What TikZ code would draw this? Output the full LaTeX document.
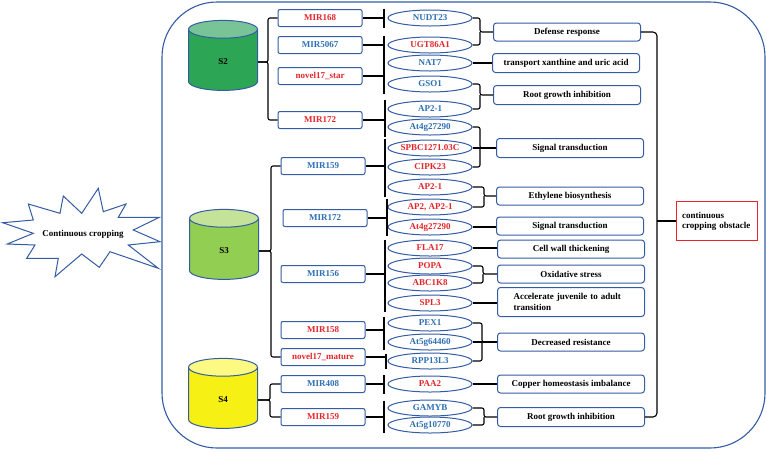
\documentclass[tikz,border=0pt]{standalone}
\usepackage{fontspec}
\setmainfont{Liberation Serif}
\usetikzlibrary{shapes.geometric}
\definecolor{boxblue}{RGB}{52,92,165}
\definecolor{txtblue}{RGB}{46,112,180}
\definecolor{txtred}{RGB}{228,38,44}
\definecolor{darkgrn}{RGB}{44,166,84}
\definecolor{darkgrntop}{RGB}{120,196,150}
\definecolor{litgrn}{RGB}{146,206,82}
\definecolor{litgrntop}{RGB}{196,226,152}
\definecolor{yel}{RGB}{246,240,20}
\definecolor{yeltop}{RGB}{252,250,130}
\begin{document}
\begin{tikzpicture}[x=1pt,y=-1pt,
    font=\fontsize{9}{10}\selectfont\bfseries,
    mirbox/.style={draw=boxblue,line width=1pt,rounded corners=2pt,fill=white,
      minimum width=84pt,minimum height=17pt,inner sep=0pt},
    genell/.style={draw=boxblue,line width=1pt,ellipse,fill=white,
      minimum width=84pt,minimum height=16pt,inner sep=0pt},
    funbox/.style={draw=boxblue,line width=1pt,rounded corners=3pt,fill=white,
      minimum width=147pt,minimum height=18pt,inner sep=0pt},
    drum/.style={draw=boxblue,line width=1pt,cylinder,shape border rotate=90,aspect=1.1,
      minimum width=69pt,minimum height=70pt,cylinder uses custom fill},
    link/.style={line width=1.1pt,rounded corners=2pt},
    tbar/.style={line width=1.4pt}]
  \useasboundingbox (0,0) rectangle (767,451);
  % outer frame
  \draw[boxblue,line width=1.1pt,rounded corners=55pt] (162,2) rectangle (765,448);
  % explosion
  \draw[boxblue,line width=1pt,fill=white] (2.7,222.7) -- (33.3,220) -- (28.3,204) -- (60,213.3)
    -- (63.3,196) -- (81.7,213.3) -- (98.3,188.3) -- (103.3,211.7) -- (126,204) -- (118.3,217.3)
    -- (159.3,217.3) -- (133.3,230) -- (160,241.7) -- (128.3,245) -- (158.3,268.3) -- (110,251.7)
    -- (99.3,267.3) -- (81.7,254) -- (55,276.7) -- (58.3,258.3) -- (26.7,258.3) -- (35,245)
    -- (7.3,244) -- (33.3,233.3) -- cycle;
  \node (cc) at (83,234) {Continuous cropping};

  % stages
  \node[drum,cylinder body fill=darkgrn,cylinder end fill=darkgrntop] (s2) at (223,62) {S2};
  \node[drum,cylinder body fill=litgrn,cylinder end fill=litgrntop] (s3) at (224,251) {S3};
  \node[drum,cylinder body fill=yel,cylinder end fill=yeltop] (s4) at (223,400) {S4};

  % miRNAs
  \node[mirbox,text=txtred] (m168) at (320,18) {MIR168};
  \node[mirbox,text=txtblue] (m5067) at (320,45) {MIR5067};
  \node[mirbox,text=txtred] (nstar) at (320,76) {novel17\_star};
  \node[mirbox,text=txtred] (m172a) at (320,120) {MIR172};
  \node[mirbox,text=txtblue] (m159a) at (323,166) {MIR159};
  \node[mirbox,text=txtblue] (m172b) at (325,218) {MIR172};
  \node[mirbox,text=txtblue] (m156) at (323,274) {MIR156};
  \node[mirbox,text=txtred] (m158) at (323,330) {MIR158};
  \node[mirbox,text=txtred] (nmat) at (323,357) {novel17\_mature};
  \node[mirbox,text=txtblue] (m408) at (323,384) {MIR408};
  \node[mirbox,text=txtred] (m159b) at (323,417) {MIR159};

  % targets
  \node[genell,text=txtblue] (nudt) at (430,18) {NUDT23};
  \node[genell,text=txtred] (ugt) at (430,45) {UGT86A1};
  \node[genell,text=txtblue] (nat) at (430,63) {NAT7};
  \node[genell,text=txtblue] (gso) at (430,84) {GSO1};
  \node[genell,text=txtblue] (apa) at (430,109) {AP2-1};
  \node[genell,text=txtblue] (ata) at (430,127) {At4g27290};
  \node[genell,text=txtred] (spbc) at (430,148) {SPBC1271.03C};
  \node[genell,text=txtred] (cipk) at (430,167) {CIPK23};
  \node[genell,text=txtred] (apb) at (430,187) {AP2-1};
  \node[genell,text=txtred] (apc) at (430,207) {AP2, AP2-1};
  \node[genell,text=txtred] (atb) at (430,227) {At4g27290};
  \node[genell,text=txtred] (fla) at (430,248) {FLA17};
  \node[genell,text=txtred] (popa) at (430,266) {POPA};
  \node[genell,text=txtred] (abc) at (430,283) {ABC1K8};
  \node[genell,text=txtred] (spl) at (430,303) {SPL3};
  \node[genell,text=txtblue] (pex) at (430,323) {PEX1};
  \node[genell,text=txtblue] (ata5) at (430,342) {At5g64460};
  \node[genell,text=txtblue] (rpp) at (430,361) {RPP13L3};
  \node[genell,text=txtred] (paa) at (430,384) {PAA2};
  \node[genell,text=txtblue] (gamyb) at (430,408) {GAMYB};
  \node[genell,text=txtblue] (atb5) at (430,425) {At5g10770};

  % functions
  \node[funbox] (defense) at (567,32) {Defense response};
  \node[funbox,minimum height=19pt] (transp) at (566,63) {transport xanthine and uric acid};
  \node[funbox,minimum height=19pt] (rootA) at (567,95) {Root growth inhibition};
  \node[funbox,minimum height=19pt] (signalA) at (570,148) {Signal transduction};
  \node[funbox] (ethyl) at (570,196) {Ethylene biosynthesis};
  \node[funbox] (signalB) at (570,226) {Signal transduction};
  \node[funbox] (cellw) at (571,249) {Cell wall thickening};
  \node[funbox] (oxid) at (571,274) {Oxidative stress};
  \node[funbox,minimum height=29pt,text width=115pt,align=left,
    font=\fontsize{9}{11}\selectfont\bfseries] (accel) at (571,302) {Accelerate juvenile to adult\\transition};
  \node[funbox] (decr) at (571,342) {Decreased resistance};
  \node[funbox] (copper) at (571,384) {Copper homeostasis imbalance};
  \node[funbox,minimum height=19pt] (rootB) at (571,417) {Root growth inhibition};
  \node[draw=txtred,line width=1.2pt,minimum width=81pt,minimum height=39pt,inner sep=0pt,
    text width=70pt,align=left] (obst) at (717,221) {continuous\\cropping obstacle};

  % stage to miRNA
  \draw[link] (s2.east) -- ++(10,0) |- (m168.west);
  \draw[link] (s2.east) -- ++(10,0) |- (m172a.west);
  \draw[link] (s3.east) -- ++(12,0) |- (m159a.west);
  \draw[link] (s3.east) -- ++(12,0) |- (nmat.west);
  \draw[link] (s4.east) -- ++(12,0) |- (m408.west);
  \draw[link] (s4.east) -- ++(12,0) |- (m159b.west);

  % miRNA -| target
  \coordinate (tb) at (384,0);
  \draw[link] (m168.east) -- (m168.east -| tb);
  \draw[tbar] ([yshift=1pt]tb |- nudt.north) -- ([yshift=-1pt]tb |- nudt.south);
  \draw[link] (m5067.east) -- (m5067.east -| tb);
  \draw[tbar] ([yshift=1pt]tb |- ugt.north) -- ([yshift=-1pt]tb |- ugt.south);
  \draw[link] (nstar.east) -- (nstar.east -| tb);
  \draw[tbar] ([yshift=1pt]tb |- nat.north) -- ([yshift=-1pt]tb |- gso.south);
  \draw[link] (m172a.east) -- ([xshift=1pt]m172a.east -| tb);
  \draw[tbar] ([xshift=1pt,yshift=1pt]tb |- apa.north) -- ([xshift=1pt,yshift=-1pt]tb |- ata.south);
  \draw[link] (m159a.east) -- ([xshift=1pt]m159a.east -| tb);
  \draw[tbar] ([xshift=1pt,yshift=1pt]tb |- spbc.north) -- ([xshift=1pt,yshift=-1pt]tb |- apb.south);
  \draw[link] (m172b.east) -- ([xshift=3pt]m172b.east -| tb);
  \draw[tbar] ([xshift=3pt]tb |- apc.north) -- ([xshift=3pt]tb |- atb.south);
  \draw[link] (m156.east) -- ([xshift=1pt]m156.east -| tb);
  \draw[tbar] ([xshift=1pt]tb |- fla.north) -- ([xshift=1pt]tb |- spl.south);
  \draw[link] (m158.east) -- (m158.east -| tb);
  \draw[tbar] ([yshift=-2pt]tb |- pex.north) -- ([yshift=1pt]tb |- ata5.south);
  \draw[link] (nmat.east) -- ([xshift=2pt]nmat.east -| tb);
  \draw[tbar] ([xshift=2pt,yshift=-1pt]tb |- rpp.north) -- ([xshift=2pt,yshift=1pt]tb |- rpp.south);
  \draw[link] (m408.east) -- (m408.east -| tb);
  \draw[tbar] ([yshift=1pt]tb |- paa.north) -- ([yshift=-1pt]tb |- paa.south);
  \draw[link] (m159b.east) -- (m159b.east -| tb);
  \draw[tbar] ([yshift=-1pt]tb |- gamyb.north) -- ([yshift=1pt]tb |- atb5.south);

  % target to function
  \draw[link] (nudt.east) -| ([xshift=-13pt]defense.west) -- (defense.west);
  \draw[link] (ugt.east) -| ([xshift=-13pt]defense.west);
  \draw[link] (nat.east) -- (nat.east -| transp.west);
  \draw[link] (gso.east) -| ([xshift=-13pt]rootA.west) -- (rootA.west);
  \draw[link] (apa.east) -| ([xshift=-13pt]rootA.west);
  \draw[link] (ata.east) -| ([xshift=-16pt]signalA.west) -- (signalA.west);
  \draw[link] (spbc.east) -- (spbc.east -| signalA.west);
  \draw[link] (cipk.east) -| ([xshift=-16pt]signalA.west);
  \draw[link] (apb.east) -| ([xshift=-12pt]ethyl.west) -- (ethyl.west);
  \draw[link] (apc.east) -| ([xshift=-12pt]ethyl.west);
  \draw[link] (atb.east) -- (atb.east -| signalB.west);
  \draw[link] (fla.east) -- (fla.east -| cellw.west);
  \draw[link] (popa.east) -| ([xshift=-14pt]oxid.west) -- (oxid.west);
  \draw[link] (abc.east) -| ([xshift=-14pt]oxid.west);
  \draw[link] (spl.east) -- (spl.east -| accel.west);
  \draw[link] (pex.east) -| ([xshift=-15pt]decr.west) -- (decr.west);
  \draw[link] (ata5.east) -- (ata5.east -| decr.west);
  \draw[link] (rpp.east) -| ([xshift=-15pt]decr.west);
  \draw[link] (paa.east) -- (paa.east -| copper.west);
  \draw[link] (gamyb.east) -| ([xshift=-13pt]rootB.west) -- (rootB.west);
  \draw[link] (atb5.east) -| ([xshift=-13pt]rootB.west);

  % function to obstacle
  \coordinate (k) at (657,221);
  \draw[link,rounded corners=4pt] (defense.east) -| (k);
  \draw[link,rounded corners=4pt] (rootB.east) -| (k);
  \draw[link] (k) -- (obst.west);
\end{tikzpicture}
\end{document}
